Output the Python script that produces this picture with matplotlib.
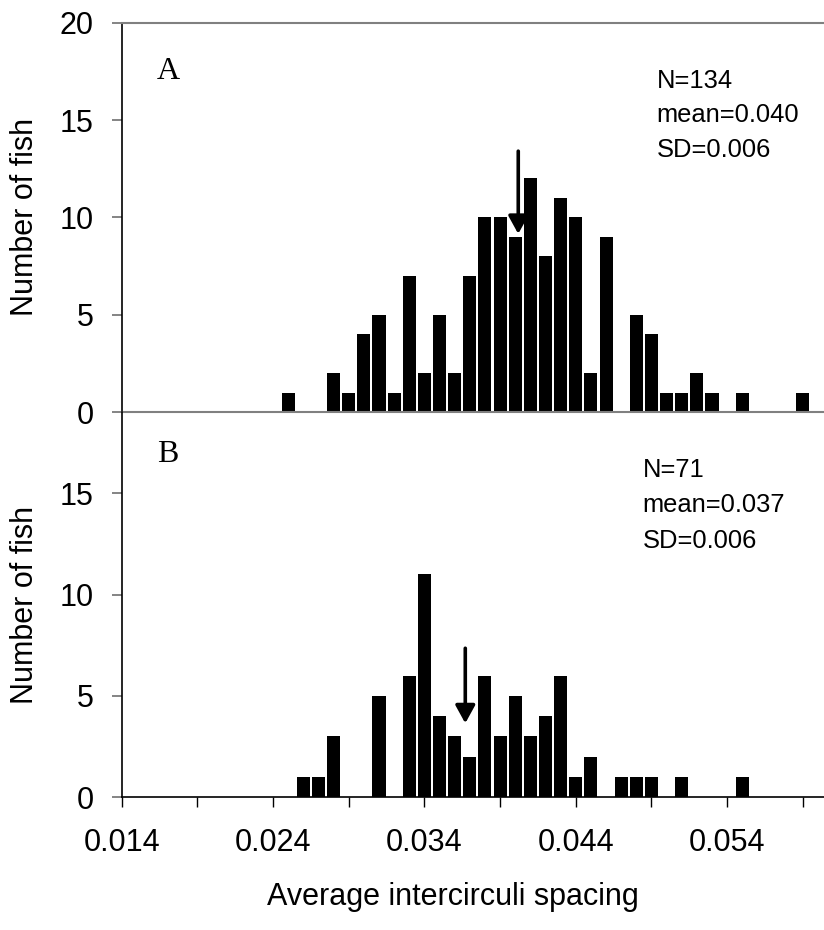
import matplotlib
matplotlib.use("Agg")
import matplotlib.pyplot as plt
from matplotlib.ticker import FixedLocator, NullFormatter

# ---- data ----
bins_a = [0.025, 0.028, 0.029, 0.030, 0.031, 0.032, 0.033, 0.034, 0.035, 0.036,
          0.037, 0.038, 0.039, 0.040, 0.041, 0.042, 0.043, 0.044, 0.045, 0.046,
          0.048, 0.049, 0.050, 0.051, 0.052, 0.053, 0.055, 0.059]
counts_a = [1, 2, 1, 4, 5, 1, 7, 2, 5, 2,
            7, 10, 10, 9, 12, 8, 11, 10, 2, 9,
            5, 4, 1, 1, 2, 1, 1, 1]

bins_b = [0.026, 0.027, 0.028, 0.031, 0.033, 0.034, 0.035, 0.036, 0.037, 0.038,
          0.039, 0.040, 0.041, 0.042, 0.043, 0.044, 0.045, 0.047, 0.048, 0.049,
          0.051, 0.055]
counts_b = [1, 1, 3, 5, 6, 11, 4, 3, 2, 6,
            3, 5, 3, 4, 6, 1, 2, 1, 1, 1,
            1, 1]

mean_a = 0.0402
mean_b = 0.0367
stats_a = ["N=134", "mean=0.040", "SD=0.006"]
stats_b = ["N=71", "mean=0.037", "SD=0.006"]
xtick_major = [0.014, 0.024, 0.034, 0.044, 0.054]
xtick_labels = ["0.014", "0.024", "0.034", "0.044", "0.054"]
xtick_minor = [0.019, 0.029, 0.039, 0.049, 0.059]

plt.rcParams['font.family'] = ['Liberation Sans', 'DejaVu Sans']

W, H = 824, 930
fig = plt.figure(figsize=(W / 100, H / 100), dpi=100)

left = 121.7 / W
right = 1.0
top_a = 1 - 22.7 / H
mid = 1 - 412 / H
bot_b = 1 - 797.3 / H

ax_a = fig.add_axes([left, mid, right - left, top_a - mid])
ax_b = fig.add_axes([left, bot_b, right - left, mid - bot_b])

xlim = (0.014, 0.0604)
barw = 0.00086
tick_fs = 22
gray = '#808080'

for ax, bins, counts, ylim, yt in [
        (ax_a, bins_a, counts_a, (0, 20), [0, 5, 10, 15, 20]),
        (ax_b, bins_b, counts_b, (0, 19), [0, 5, 10, 15])]:
    ax.bar(bins, counts, width=barw, color='black', edgecolor='none', zorder=2)
    ax.set_xlim(*xlim)
    ax.set_ylim(*ylim)
    ax.set_yticks(yt)
    ax.set_yticklabels([str(v) for v in yt], fontsize=tick_fs)
    ax.tick_params(axis='y', direction='out', length=7.2, width=1.2, pad=13,
                   color='#707070', labelcolor='black')
    ax.spines['right'].set_visible(False)
    ax.spines['left'].set_color('black')
    ax.spines['left'].set_linewidth(1.2)
    ax.patch.set_alpha(0)

# top panel
ax_a.spines['top'].set_color(gray)
ax_a.spines['top'].set_linewidth(1.5)
ax_a.spines['bottom'].set_color(gray)
ax_a.spines['bottom'].set_linewidth(1.5)
ax_a.set_xticks([])
ax_a.spines['left'].set_bounds(0, 20)

# bottom panel
ax_b.spines['top'].set_visible(False)
ax_b.spines['bottom'].set_color('black')
ax_b.spines['bottom'].set_linewidth(1.2)
ax_b.xaxis.set_major_locator(FixedLocator(xtick_major))
ax_b.set_xticklabels(xtick_labels, fontsize=tick_fs)
ax_b.xaxis.set_minor_locator(FixedLocator(xtick_minor))
ax_b.xaxis.set_minor_formatter(NullFormatter())
ax_b.tick_params(axis='x', which='both', direction='out', length=7.2, width=1.0,
                 pad=15, colors='black')

# arrows for means
arrow_kw = dict(arrowstyle='-|>,head_length=0.4,head_width=0.22', color='black',
                lw=2.6, shrinkA=0, shrinkB=0, mutation_scale=27)
ax_a.annotate('', xy=(mean_a, 9.15), xytext=(mean_a, 13.4), arrowprops=arrow_kw,
              zorder=5)
ax_b.annotate('', xy=(mean_b, 3.65), xytext=(mean_b, 7.35), arrowprops=arrow_kw,
              zorder=5)

# panel letters
fig.text(157 / W, 1 - 78.7 / H, "A", family=['Liberation Serif'], fontsize=23,
         va='baseline', ha='left')
fig.text(157 / W, 1 - 462 / H, "B", family=['Liberation Serif'], fontsize=23,
         va='baseline', ha='left')

# stats text
for i, s in enumerate(stats_a):
    fig.text(656.7 / W, 1 - (88.3 + 34.2 * i) / H, s, fontsize=18.4,
             va='baseline', ha='left')
for i, s in enumerate(stats_b):
    fig.text(642.7 / W, 1 - (476.7 + 35.8 * i) / H, s, fontsize=18.4,
             va='baseline', ha='left')

# axis labels
fig.text(25 / W, 1 - 217 / H, "Number of fish", rotation=90, fontsize=tick_fs,
         va='center', ha='center')
fig.text(25 / W, 1 - 605 / H, "Number of fish", rotation=90, fontsize=tick_fs,
         va='center', ha='center')
fig.text(453 / W, 1 - 897 / H, "Average intercirculi spacing", fontsize=tick_fs,
         va='center', ha='center')

fig.savefig("out.png", dpi=100)
